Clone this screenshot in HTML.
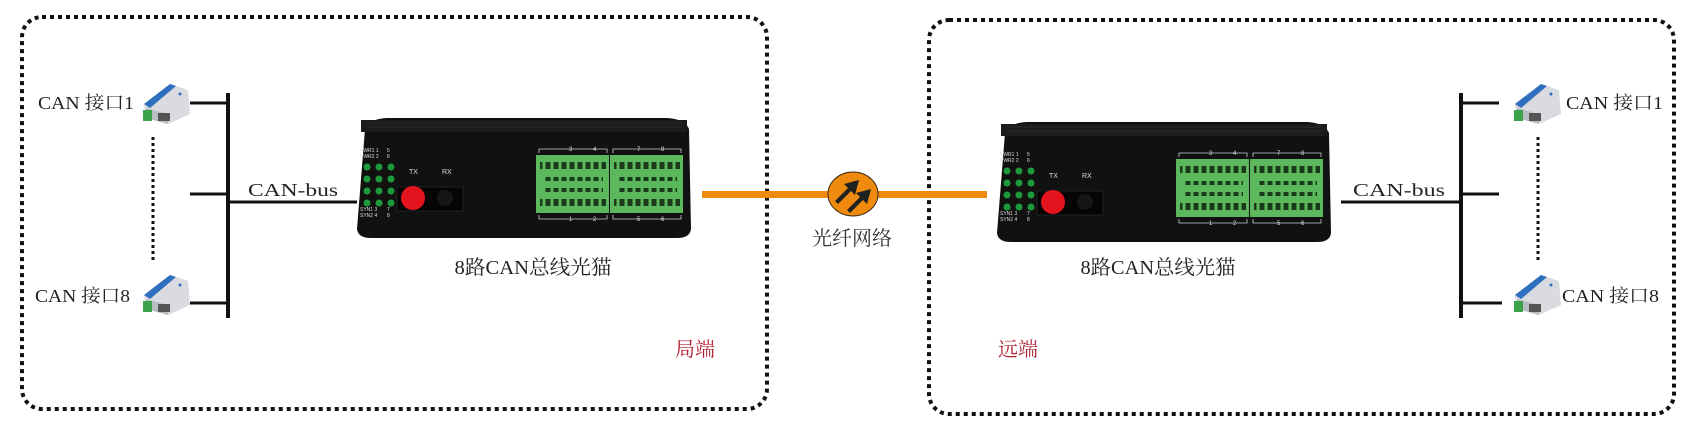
<!DOCTYPE html>
<html><head><meta charset="utf-8">
<style>
html,body{margin:0;padding:0;background:#fff;}
svg{display:block;}
.t{font-family:"Liberation Serif","Noto Serif CJK SC",serif;fill:#222;}
.s{font-family:"Liberation Sans",sans-serif;fill:#ddd;font-size:5px;}
</style></head><body>
<svg width="1705" height="428" viewBox="0 0 1705 428" xmlns="http://www.w3.org/2000/svg">
<defs>
<g id="dev">
  <path d="M8 12 Q12 2 30 1 L310 1 Q328 2 332 12 L334 112 Q333 121 320 121 L14 121 Q1 121 0 112 Z" fill="#111"/>
  <rect x="4" y="3" width="326" height="12" fill="#1c1c1c"/>
  <g stroke="#2a2a2a" stroke-width="1">
    <line x1="10" y1="6" x2="325" y2="6"/><line x1="10" y1="10" x2="325" y2="10"/>
  </g>
  <text class="s" x="3" y="35">PWR1 1</text><text class="s" x="30" y="35">5</text>
  <text class="s" x="3" y="41">PWR2 2</text><text class="s" x="30" y="41">6</text>
  <text class="s" x="3" y="94">SYN1 3</text><text class="s" x="30" y="94">7</text>
  <text class="s" x="3" y="100">SYN2 4</text><text class="s" x="30" y="100">8</text>
  <g fill="#1f9a3a">
    <circle cx="10" cy="50" r="3.5"/><circle cx="22" cy="50" r="3.5"/><circle cx="34" cy="50" r="3.5"/>
    <circle cx="10" cy="62" r="3.5"/><circle cx="22" cy="62" r="3.5"/><circle cx="34" cy="62" r="3.5"/>
    <circle cx="10" cy="74" r="3.5"/><circle cx="22" cy="74" r="3.5"/><circle cx="34" cy="74" r="3.5"/>
    <circle cx="10" cy="86" r="3.5"/><circle cx="22" cy="86" r="3.5"/><circle cx="34" cy="86" r="3.5"/>
  </g>
  <text class="s" x="52" y="57" style="font-size:7px">TX</text>
  <text class="s" x="85" y="57" style="font-size:7px">RX</text>
  <rect x="40" y="70" width="66" height="24" fill="#050505" stroke="#333" stroke-width="0.6"/>
  <circle cx="88" cy="81" r="8" fill="#161616"/>
  <circle cx="56" cy="81" r="12" fill="#e4141f"/>
  <rect x="179" y="38" width="73" height="58" fill="#5cb85c"/>
  <rect x="253" y="38" width="73" height="58" fill="#5cb85c"/>
  <g fill="#1a3a1a">
    <rect x="183" y="45" width="66" height="7"/><rect x="257" y="45" width="66" height="7"/>
    <rect x="186" y="60" width="60" height="4"/><rect x="260" y="60" width="60" height="4"/>
    <rect x="186" y="71" width="60" height="4"/><rect x="260" y="71" width="60" height="4"/>
    <rect x="183" y="82" width="66" height="7"/><rect x="257" y="82" width="66" height="7"/>
  </g>
  <g stroke="#5cb85c" stroke-width="3">
    <path d="M187 44v46M195 44v46M203 44v46M211 44v46M219 44v46M227 44v46M235 44v46M243 44v46"/>
    <path d="M261 44v46M269 44v46M277 44v46M285 44v46M293 44v46M301 44v46M309 44v46M317 44v46"/>
  </g>
  <g fill="none" stroke="#ccc" stroke-width="0.8">
    <path d="M182 98v4h68v-4M256 98v4h68v-4M182 36v-4h68v4M256 36v-4h68v4"/>
  </g>
  <text class="s" x="212" y="34" style="font-size:6px">3</text><text class="s" x="236" y="34" style="font-size:6px">4</text>
  <text class="s" x="280" y="34" style="font-size:6px">7</text><text class="s" x="304" y="34" style="font-size:6px">8</text>
  <text class="s" x="212" y="104" style="font-size:6px">1</text><text class="s" x="236" y="104" style="font-size:6px">2</text>
  <text class="s" x="280" y="104" style="font-size:6px">5</text><text class="s" x="304" y="104" style="font-size:6px">6</text>
</g>
<g id="ico">
  <path d="M4 22 L30 2 L48 8 L50 32 L28 42 L6 36 Z" fill="#d9dbe0"/>
  <path d="M4 22 L30 2 L36 4 L10 26 Z" fill="#2f6fbf"/>
  <path d="M6 26 L28 32 L28 42 L6 36 Z" fill="#b9bcc2"/>
  <rect x="3" y="28" width="9" height="11" fill="#3ca34a"/>
  <rect x="18" y="31" width="12" height="8" fill="#555"/>
  <circle cx="40" cy="12" r="1.5" fill="#2f6fbf"/>
</g>
</defs>

<rect x="22" y="17" width="745" height="392" rx="20" fill="none" stroke="#111" stroke-width="4" stroke-dasharray="4 4"/>
<rect x="929" y="20" width="745" height="394" rx="20" fill="none" stroke="#111" stroke-width="4" stroke-dasharray="4 4"/>

<rect x="702" y="191" width="285" height="7" fill="#f08a0e"/>
<ellipse cx="853" cy="194" rx="25" ry="22" fill="#f08a0e" stroke="#3a2a10" stroke-width="1"/>
<g fill="#222">
  <path d="M835 201 L848 188 L844 184 L859 180 L855 195 L851 191 L838 204 Z"/>
  <path d="M847 210 L860 197 L856 193 L871 189 L867 204 L863 200 L850 213 Z"/>
</g>
<text class="t" x="852" y="245" font-size="20" text-anchor="middle" style="fill:#333">光纤网络</text>

<use href="#dev" x="357" y="117"/>
<text class="t" x="533" y="274" font-size="20" text-anchor="middle" textLength="157" lengthAdjust="spacingAndGlyphs">8路CAN总线光猫</text>
<use href="#ico" x="140" y="82"/>
<use href="#ico" x="140" y="273"/>
<text class="t" x="38" y="109" font-size="18" textLength="96" lengthAdjust="spacingAndGlyphs">CAN 接口1</text>
<text class="t" x="35" y="302" font-size="18" textLength="95" lengthAdjust="spacingAndGlyphs">CAN 接口8</text>
<line x1="153" y1="137" x2="153" y2="260" stroke="#111" stroke-width="3" stroke-dasharray="3 3"/>
<g stroke="#111" stroke-width="3">
  <line x1="228" y1="93" x2="228" y2="318" stroke-width="4"/>
  <line x1="190" y1="103" x2="228" y2="103"/>
  <line x1="190" y1="194" x2="228" y2="194"/>
  <line x1="190" y1="303" x2="228" y2="303"/>
  <line x1="228" y1="202" x2="357" y2="202"/>
</g>
<text class="t" x="248" y="196" font-size="18" textLength="90" lengthAdjust="spacingAndGlyphs">CAN-bus</text>
<text class="t" x="695" y="356" font-size="20" text-anchor="middle" style="fill:#b02030">局端</text>

<use href="#dev" x="997" y="121"/>
<text class="t" x="1158" y="274" font-size="20" text-anchor="middle" textLength="155" lengthAdjust="spacingAndGlyphs">8路CAN总线光猫</text>
<use href="#ico" x="1511" y="82"/>
<use href="#ico" x="1511" y="273"/>
<text class="t" x="1566" y="109" font-size="18" textLength="97" lengthAdjust="spacingAndGlyphs">CAN 接口1</text>
<text class="t" x="1562" y="302" font-size="18" textLength="97" lengthAdjust="spacingAndGlyphs">CAN 接口8</text>
<line x1="1538" y1="137" x2="1538" y2="262" stroke="#111" stroke-width="3" stroke-dasharray="3 3"/>
<g stroke="#111" stroke-width="3">
  <line x1="1461" y1="93" x2="1461" y2="318" stroke-width="4"/>
  <line x1="1461" y1="103" x2="1499" y2="103"/>
  <line x1="1461" y1="194" x2="1499" y2="194"/>
  <line x1="1461" y1="303" x2="1502" y2="303"/>
  <line x1="1341" y1="202" x2="1461" y2="202"/>
</g>
<text class="t" x="1353" y="196" font-size="18" textLength="92" lengthAdjust="spacingAndGlyphs">CAN-bus</text>
<text class="t" x="1018" y="356" font-size="20" text-anchor="middle" style="fill:#b02030">远端</text>
</svg>
</body></html>
